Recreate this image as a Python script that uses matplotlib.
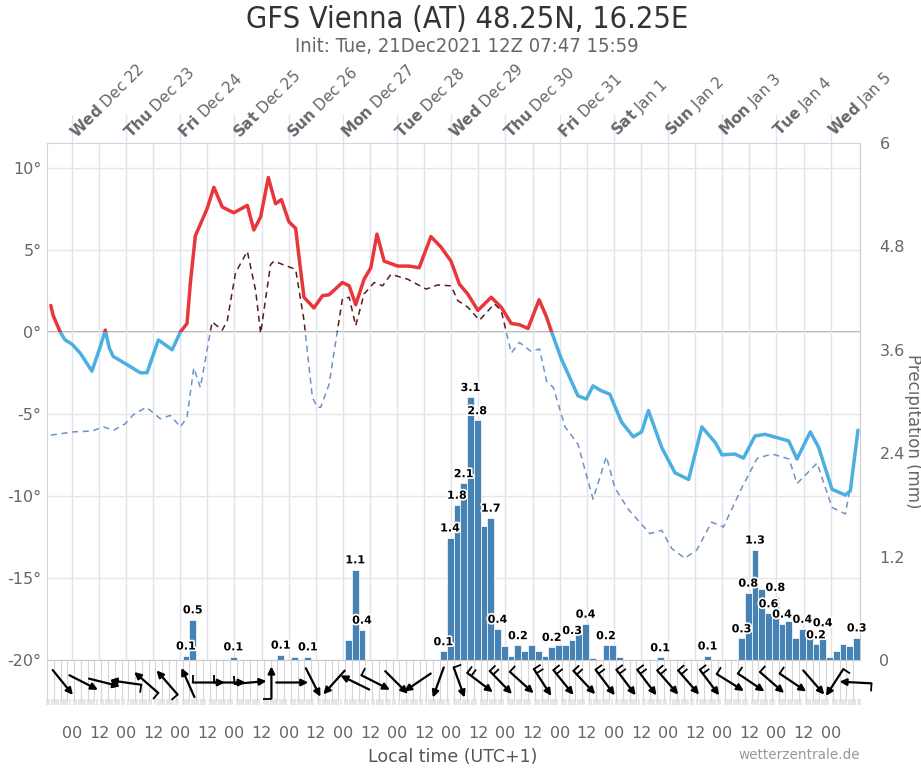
import numpy as np
import matplotlib
matplotlib.use("Agg")
import matplotlib.pyplot as plt
import matplotlib.patheffects as pe
from matplotlib.patches import Rectangle

# time axis: hours since Wed Dec 22 00:00 local time (UTC+1)
t_start, t_end = -11, 349
day_names = ["Wed Dec 22", "Thu Dec 23", "Fri Dec 24", "Sat Dec 25", "Sun Dec 26",
             "Mon Dec 27", "Tue Dec 28", "Wed Dec 29", "Thu Dec 30", "Fri Dec 31",
             "Sat Jan 1", "Sun Jan 2", "Mon Jan 3", "Tue Jan 4", "Wed Jan 5"]

# 2m temperature (deg C)
temp_hours = [-9.3, -8.3, -5.2, -3.0, 0.0, 3.7, 8.9, 12.6, 14.8, 16.6, 18.3, 24.4, 30.3, 33.3,
              38.3, 41.4, 44.4, 48.1, 51.0, 52.5, 54.7, 59.9, 62.9, 66.6, 71.7, 77.7, 80.6, 83.6,
              87.0, 90.2, 92.8, 96.1, 99.1, 100.9, 102.8, 107.2, 111.0, 113.9, 119.8, 122.8,
              125.7, 129.4, 132.4, 135.1, 138.3, 144.3, 149.4, 153.8, 159.0, 163.5, 167.9, 171.6,
              175.3, 179.8, 185.7, 190.1, 194.6, 198.2, 202.0, 206.9, 210.2, 212.4, 216.8, 224.1,
              227.8, 230.8, 234.5, 238.2, 243.4, 248.6, 252.3, 255.3, 261.2, 267.1, 273.1, 279.0,
              284.9, 287.9, 293.6, 297.4, 302.5, 307.0, 317.4, 321.1, 327.0, 330.7, 336.6, 342.5,
              344.7, 348.1]
temp_vals = [1.6, 1.0, 0.0, -0.5, -0.75, -1.3, -2.4, -0.9, 0.1, -1.0, -1.5, -2.0, -2.5, -2.5,
             -0.5, -0.8, -1.1, 0.0, 0.5, 3.0, 5.85, 7.5, 8.8, 7.6, 7.25, 7.7, 6.2, 7.0,
             9.4, 7.8, 8.05, 6.7, 6.3, 4.2, 2.1, 1.45, 2.2, 2.25, 3.0, 2.8,
             1.65, 3.2, 3.9, 5.95, 4.3, 4.0, 4.0, 3.9, 5.8, 5.15, 4.3, 2.9,
             2.3, 1.3, 2.1, 1.5, 0.5, 0.43, 0.2, 1.95, 0.9, 0.0, -1.67, -3.9,
             -4.1, -3.3, -3.6, -3.8, -5.5, -6.4, -6.1, -4.8, -7.05, -8.6, -9.0, -5.8,
             -6.75, -7.5, -7.45, -7.7, -6.35, -6.25, -6.65, -7.75, -6.1, -7.05, -9.6, -9.95,
             -9.7, -6.0]

# dew point (deg C)
dew_hours = [-9.3, 0.7, 8.9, 14.0, 18.5, 23.7, 27.3, 33.0, 39.2, 43.6, 48.1, 51.0, 54.0, 56.9,
             62.1, 66.6, 68.8, 72.5, 77.7, 81.4, 83.6, 88.0, 89.5, 99.1, 102.8, 106.5, 108.7,
             110.2, 113.9, 119.8, 122.8, 125.7, 129.4, 133.9, 137.6, 141.3, 148.7, 156.9, 162.0,
             167.9, 170.9, 175.3, 180.5, 187.1, 190.1, 194.6, 198.2, 203.4, 207.1, 210.2, 213.2,
             218.4, 224.1, 230.8, 236.7, 240.4, 246.3, 255.9, 261.2, 265.6, 271.4, 276.7, 283.3,
             288.5, 296.7, 303.5, 310.2, 317.6, 321.1, 330.0, 336.6, 342.5, 345.5, 348.1]
dew_vals = [-6.3, -6.1, -6.05, -5.8, -6.0, -5.6, -5.05, -4.6, -5.3, -5.1, -5.8, -5.2, -2.2, -3.4,
            0.6, 0.1, 0.67, 3.6, 4.9, 2.5, -0.1, 4.1, 4.3, 3.8, 0.7, -4.0, -4.6,
            -4.6, -3.2, 2.0, 2.1, 0.37, 2.3, 3.0, 2.8, 3.5, 3.2, 2.6, 2.85,
            2.8, 1.9, 1.5, 0.7, 1.7, 1.3, -1.3, -0.65, -1.2, -1.05, -3.0, -3.4,
            -5.8, -6.85, -10.2, -7.6, -9.5, -10.8, -12.3, -12.1, -13.2, -13.8, -13.3, -11.6,
            -11.9, -9.5, -7.7, -7.45, -7.75, -9.25, -8.0, -10.7, -11.1, -8.9, -6.3]

# 3-hourly precipitation (mm), first bar starts at t_start
precip_mm = [0, 0, 0, 0, 0, 0, 0, 0, 0, 0,
             0, 0, 0, 0, 0, 0, 0, 0, 0, 0,
             0.05, 0.47, 0, 0, 0, 0, 0, 0.04, 0, 0,
             0, 0, 0, 0, 0.06, 0, 0.04, 0, 0.04, 0,
             0, 0, 0, 0, 0.23, 1.05, 0.35, 0, 0, 0,
             0, 0, 0, 0, 0, 0, 0, 0, 0.1, 1.42,
             1.80, 2.05, 3.05, 2.78, 1.55, 1.65, 0.36, 0.16, 0.05, 0.17,
             0.1, 0.17, 0.1, 0.05, 0.15, 0.17, 0.17, 0.23, 0.3, 0.42,
             0.02, 0, 0.17, 0.17, 0.03, 0, 0, 0, 0, 0,
             0.03, 0, 0, 0, 0, 0, 0, 0.05, 0, 0,
             0, 0, 0.25, 0.78, 1.28, 0.82, 0.54, 0.73, 0.42, 0.45,
             0.25, 0.36, 0.3, 0.18, 0.32, 0.04, 0.1, 0.18, 0.16, 0.26]
label_bars = [20, 21, 27, 34, 38, 45, 46, 58, 59, 60, 61, 62, 63, 65, 66, 69, 74, 77, 79, 82,
              90, 97, 102, 103, 104, 106, 107, 108, 111, 113, 114, 119]
label_text = ["0.1", "0.5", "0.1", "0.1", "0.1", "1.1", "0.4", "0.1", "1.4", "1.8", "2.1", "3.1",
              "2.8", "1.7", "0.4", "0.2", "0.2", "0.3", "0.4", "0.2", "0.1", "0.1", "0.3", "0.8",
              "1.3", "0.6", "0.8", "0.4", "0.4", "0.2", "0.4", "0.3"]

# wind: direction it blows from (deg) and number of barbs
wind_from = [321, 297, 284, 98, 131, 139, 156, 270, 270, 265, 180, 270, 333, 42, 116, 297, 315,
             56, 20, 340, 307, 316, 312, 327, 321, 317, 323, 323, 323, 319, 319, 323, 302, 304,
             311, 304, 319, 33, 93]
wind_barbs = [0, 0, 0, 1, 1, 1, 0, 1, 1, 1, 1, 0, 0, 0, 0, 1, 0, 0, 0, 1, 2, 2, 1, 2, 2, 2, 2,
              2, 2, 2, 2, 2, 1, 1, 1, 1, 0, 1, 1]
wind_hours = np.linspace(-4, 347, len(wind_from))

RED = "#e8363b"
BLUE = "#4bb0e0"
DEW_WARM = "#5a1c1c"
DEW_COLD = "#6d93c7"
GREY = "#666666"

W, H = 921, 768
fig = plt.figure(figsize=(W / 100, H / 100), dpi=100)
L, R, T, B = 47, 860, 143, 660
ax = fig.add_axes([L / W, 1 - B / H, (R - L) / W, (B - T) / H])
axp = ax.twinx()
WB = 705
axw = fig.add_axes([L / W, 1 - WB / H, (R - L) / W, (WB - B) / H])

# --- main temperature axis
ax.set_xlim(t_start, t_end)
ax.set_ylim(-20, 11.5)
ax.set_yticks(range(-20, 11, 5))
ax.set_yticklabels([f"{v}°" for v in range(-20, 11, 5)])
ax.tick_params(axis="y", length=0, labelsize=11.5, labelcolor=GREY, pad=4)
ax.set_xticks(range(0, 337, 12))
ax.tick_params(axis="x", length=0, labelbottom=False)
ax.grid(axis="y", color="#e6e6e6", lw=1)
ax.grid(axis="x", color="#e2e2ee", lw=1)
ax.axhline(0, color="#a8a8a8", lw=1.3, zorder=1.5)
for s in ["left", "top"]:
    ax.spines[s].set_color("#ccd6eb")
ax.spines["right"].set_color("#cccccc")
ax.spines["bottom"].set_color("#cccccc")

warm = Rectangle((t_start, 0), t_end - t_start, 100, transform=ax.transData)
cold = Rectangle((t_start, -100), t_end - t_start, 100, transform=ax.transData)

for clip, col in [(warm, DEW_WARM), (cold, DEW_COLD)]:
    ln, = ax.plot(dew_hours, dew_vals, color=col, lw=1.1, dashes=(4, 3), zorder=2)
    ln.set_clip_path(clip)
for clip, col in [(warm, RED), (cold, BLUE)]:
    ln, = ax.plot(temp_hours, temp_vals, color=col, lw=2.5, zorder=3,
                  solid_joinstyle="round", solid_capstyle="round")
    ln.set_clip_path(clip)

# day labels on top
for i, name in enumerate(day_names):
    h = 24 * i
    ax.plot([h, h], [1, 1 + 28 / (B - T)], transform=ax.get_xaxis_transform(),
            color="#dfe3ee", lw=1, clip_on=False)
    day, rest = name.split(" ", 1)
    ax.annotate(rf"$\mathbf{{{day}}}$ {rest}", xy=(h, 1), xycoords=ax.get_xaxis_transform(),
                xytext=(5, 2), textcoords="offset points",
                rotation=45, rotation_mode="anchor", ha="left", va="bottom",
                fontsize=11, color=GREY, annotation_clip=False)

# --- precipitation bars
bar_left = t_start + 3 * np.arange(len(precip_mm))
axp.bar(bar_left, precip_mm, width=3, align="edge", color="#4682b4",
        edgecolor="white", linewidth=0.5, zorder=2)
axp.set_ylim(0, 6)
axp.set_yticks([0, 1.2, 2.4, 3.6, 4.8, 6])
axp.set_yticklabels(["0", "1.2", "2.4", "3.6", "4.8", "6"])
axp.tick_params(axis="y", length=0, labelsize=11.5, labelcolor=GREY, pad=14)
for s in axp.spines.values():
    s.set_visible(False)
for k, txt in zip(label_bars, label_text):
    axp.annotate(txt, (bar_left[k] + 1.5, precip_mm[k]), xytext=(0, 3),
                 textcoords="offset points", ha="center", va="bottom",
                 fontsize=8, fontweight="bold", color="black", zorder=5,
                 path_effects=[pe.withStroke(linewidth=2.5, foreground="white")])

# --- wind panel
axw.set_xlim(t_start, t_end)
axw.set_ylim(0, 1)
for s in ["left", "right", "bottom"]:
    axw.spines[s].set_visible(False)
axw.spines["top"].set_color("#cccccc")
axw.set_yticks([])
edges = t_start + 3 * np.arange(len(precip_mm) + 1)
axw.vlines(edges, 0.08, 1, color="#d6d6d6", lw=0.8)
axw.set_xticks(range(0, 337, 12))
axw.set_xticklabels(["00" if h % 24 == 0 else "12" for h in range(0, 337, 12)])
axw.set_xticks(np.arange(t_start, t_end + 1, 1), minor=True)
axw.tick_params(axis="x", which="major", length=0, pad=15, labelsize=11.5, labelcolor=GREY)
axw.tick_params(axis="x", which="minor", length=4, width=1.1, color="#dde1e8", direction="in")

px_per_h = (R - L) / (t_end - t_start)
px_per_y = WB - B
arrow_len = 32
yc = 0.5
for h, frm, nb in zip(wind_hours, wind_from, wind_barbs):
    a = np.deg2rad(270 - frm)
    ux, uy = np.cos(a), np.sin(a)
    tail = (h - ux * arrow_len / 2 / px_per_h, yc - uy * arrow_len / 2 / px_per_y)
    head = (h + ux * arrow_len / 2 / px_per_h, yc + uy * arrow_len / 2 / px_per_y)
    axw.annotate("", xy=head, xytext=tail, annotation_clip=False,
                 arrowprops=dict(arrowstyle="-|>", color="black", lw=1.6,
                                 mutation_scale=10, shrinkA=0, shrinkB=0))
    bx, by = np.cos(a + np.pi / 2), np.sin(a + np.pi / 2)
    for j in range(nb):
        sx = tail[0] + ux * 5 * j / px_per_h
        sy = tail[1] + uy * 5 * j / px_per_y
        axw.plot([sx, sx + bx * 8 / px_per_h], [sy, sy + by * 8 / px_per_y],
                 color="black", lw=1.3, clip_on=False, solid_capstyle="butt")

# --- texts
fig.text(467 / W, 1 - 19 / H, "GFS Vienna (AT) 48.25N, 16.25E", ha="center", va="center",
         fontsize=22, color="#333333", fontstretch="condensed")
fig.text(467 / W, 1 - 46 / H, "Init: Tue, 21Dec2021 12Z 07:47 15:59", ha="center", va="center",
         fontsize=14.5, color=GREY, fontstretch="condensed")
fig.text(912.5 / W, 1 - 431 / H, "Precipitation (mm)", rotation=270, ha="center", va="center",
         fontsize=12, color=GREY)
fig.text(453 / W, 1 - 757 / H, "Local time (UTC+1)", ha="center", va="center",
         fontsize=12.5, color="#555555")
fig.text(860 / W, 1 - 755 / H, "wetterzentrale.de", ha="right", va="center",
         fontsize=9.8, color="#999999")

fig.savefig("out.png", dpi=100)
